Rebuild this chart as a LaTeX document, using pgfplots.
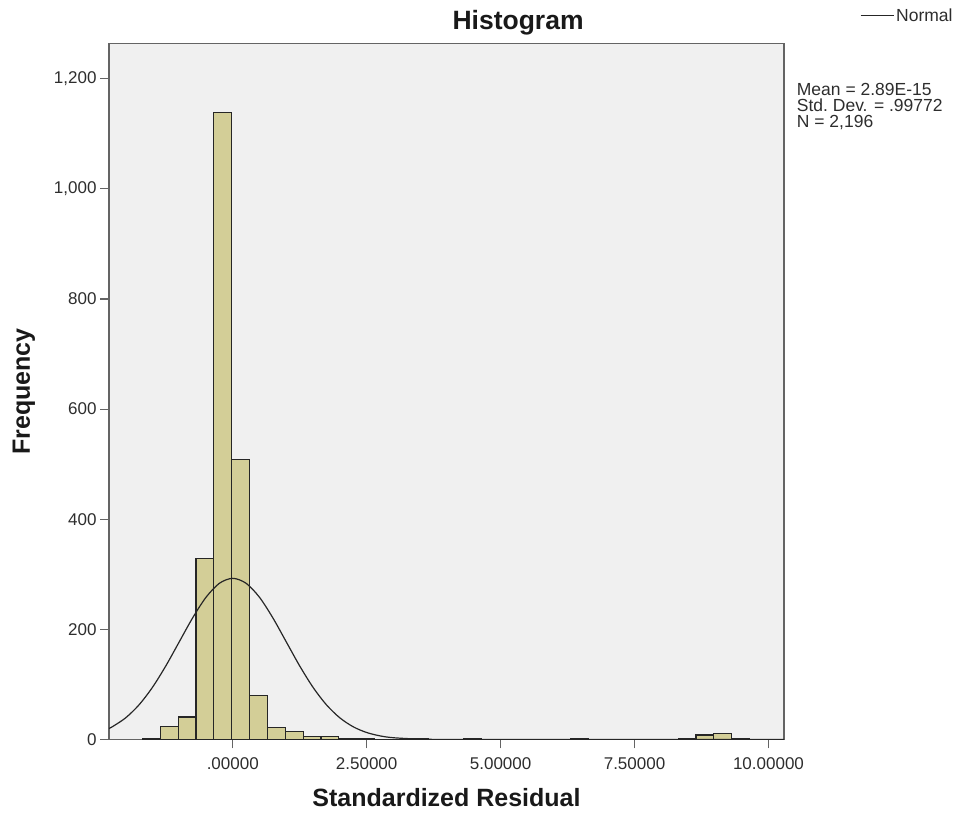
\documentclass[border=0pt]{standalone}
\usepackage{fontspec}
\setmainfont{Liberation Sans}
\usepackage{pgfplots}
\pgfplotsset{compat=1.18}
\definecolor{barfill}{RGB}{211,206,151}
\definecolor{plotbg}{RGB}{240,240,240}
\definecolor{framec}{RGB}{100,100,100}
\definecolor{tickc}{RGB}{45,45,45}
\begin{document}
\begin{tikzpicture}[x=1pt,y=1pt]
\begin{axis}[
  scale only axis, width=675pt, height=696pt,
  xmin=-2.31, xmax=10.29, ymin=0, ymax=1264,
  axis background/.style={fill=plotbg},
  axis line style={framec, line width=1.6pt},
  xtick pos=bottom, ytick pos=left,
  tick align=outside, major tick length=9pt,
  tick style={framec, line width=1.2pt},
  xtick={0,2.5,5,7.5,10},
  xticklabels={.00000,2.50000,5.00000,7.50000,10.00000},
  ytick={0,200,400,600,800,1000,1200},
  yticklabels={0,200,400,600,800,{1,000},{1,200}},
  ticklabel style={font=\fontsize{17}{20}\selectfont, text=tickc},
  xticklabel style={yshift=-6pt},
  xlabel={Standardized Residual}, ylabel={Frequency},
  xlabel style={at={(axis description cs:0.5,0)}, anchor=base, yshift=-67.5pt, font=\bfseries\fontsize{25}{30}\selectfont, text=black!90},
  ylabel style={at={(axis description cs:-0.11704,0.5)}, anchor=base, font=\bfseries\fontsize{25}{30}\selectfont, text=black!90},
  title={Histogram},
  title style={at={(axis description cs:0.606,1)}, anchor=base, yshift=8.2pt, font=\bfseries\fontsize{26.5}{30}\selectfont, text=black!90},
  legend style={draw=none, fill=none, at={(axis description cs:1.1126,1.0399)}, anchor=west, inner sep=0pt, outer sep=0pt, font=\fontsize{17.5}{20}\selectfont, text=tickc},
  legend image code/.code={\draw[#1] (0pt,0pt) -- (33pt,0pt);},
]
\addplot[ybar interval, forget plot, fill=barfill, draw=black!85, line width=1.2pt, mark=none] coordinates {
(-1.6867,2) (-1.3533,24) (-1.02,41) (-0.6867,328) (-0.3533,1138)
(-0.02,508) (0.3133,80) (0.6467,22) (0.98,14) (1.3133,6)
(1.6467,5) (1.98,2) (2.3133,1) (2.6467,0) (2.98,0)
(3.3133,2) (3.6467,0) (3.98,0) (4.3133,1) (4.6467,0)
(4.98,0) (5.3133,0) (5.6467,0) (5.98,0) (6.3133,1)
(6.6467,0) (6.98,0) (7.3133,0) (7.6467,0) (7.98,0)
(8.3133,1) (8.6467,8) (8.98,11) (9.3133,1) (9.6467,0)
};
\addplot[smooth, black!85, line width=1.2pt, mark=none] coordinates {
(-2.31,20.06) (-2.25,23.02) (-2.0,39.25) (-1.75,62.86) (-1.5,94.53)
(-1.25,133.52) (-1.0,177.12) (-0.75,220.65) (-0.5,258.14) (-0.25,283.64)
(0,292.68) (0.25,283.64) (0.5,258.14) (0.75,220.65) (1.0,177.12)
(1.25,133.52) (1.5,94.53) (1.75,62.86) (2.0,39.25) (2.25,23.02)
(2.5,12.68) (2.75,6.56) (3.0,3.19) (3.5,0.62) (4.0,0.1) (4.5,0.01)
(5.0,0) (7.0,0) (10.29,0)
};
\addlegendentry{Normal}
\end{axis}
\node[anchor=north west, align=left, inner sep=0pt, font=\fontsize{17.5}{16}\selectfont, text=tickc] at (687.7,656.8) {Mean = 2.89E-15\\Std.\ Dev. = .99772\\N = 2,196};
\pgfresetboundingbox
\useasboundingbox (-109,-78.5) rectangle (850,739.5);
\end{tikzpicture}
\end{document}
